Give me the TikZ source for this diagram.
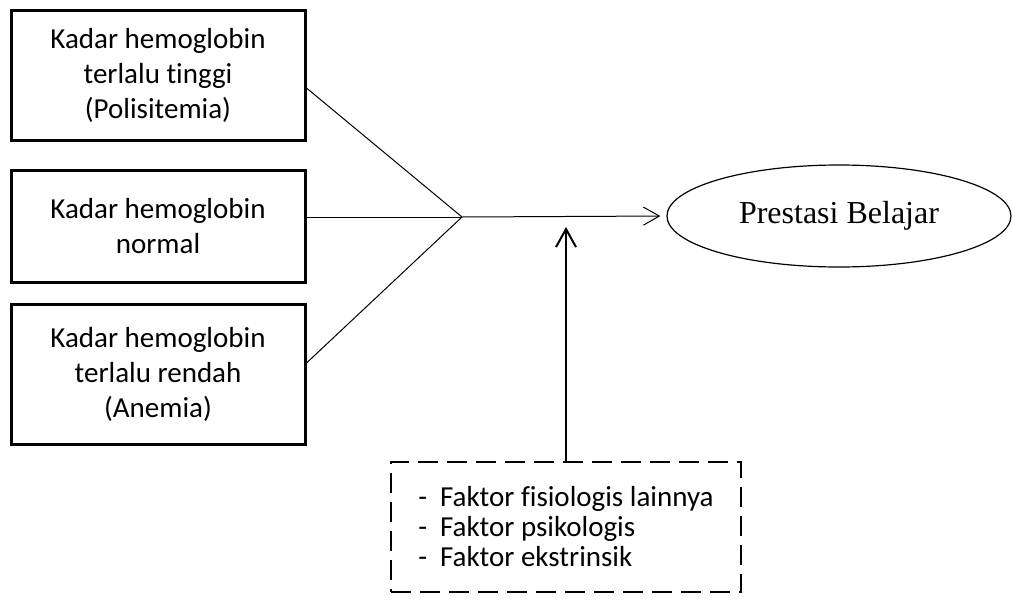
\documentclass[tikz,border=0pt]{standalone}
\usepackage{fontspec}
\setmainfont{Carlito}[Ligatures=NoCommon]
\newfontfamily\serifhuruf{Liberation Serif}
\usetikzlibrary{shapes.geometric,arrows.meta}
\tikzset{
  kotak/.style={draw, line width=1.5pt, minimum width=147pt, align=center,
    font=\fontsize{14.5}{17.5}\selectfont},
  garis/.style={line width=0.5pt},
  panah/.style={-{Straight Barb[length=8pt,width=9pt]}},
}

\begin{document}
\begin{tikzpicture}[x=0.5pt,y=-0.5pt]
\useasboundingbox (0,0) rectangle (1013,600);

\node[kotak, minimum height=65pt] (kadar1) at (158,75) {Kadar hemoglobin\\terlalu tinggi\\(Polisitemia)};
\node[kotak, minimum height=56pt] (kadar2) at (158,226) {Kadar hemoglobin\\normal};
\node[kotak, minimum height=70pt] (kadar3) at (158,374) {Kadar hemoglobin\\terlalu rendah\\(Anemia)};

\node[ellipse, draw, line width=0.6pt, minimum width=172pt, minimum height=51pt,
  font=\serifhuruf\fontsize{16}{19}\selectfont] (prestasi) at (839,216) {Prestasi Belajar};

\node[draw, line width=1pt, dash pattern=on 10pt off 4.5pt, minimum width=175pt, minimum height=65pt,
  align=left, font=\fontsize{14.5}{15}\selectfont] (faktor) at (566,527)
  {-\hspace{6.5pt}Faktor fisiologis lainnya\\-\hspace{6.5pt}Faktor psikologis\\-\hspace{6.5pt}Faktor ekstrinsik};

\coordinate (temu) at (462,217);
\coordinate (ujung) at (566,227);

\foreach \n/\dy in {kadar1/-6.5pt, kadar2/4.5pt, kadar3/5.5pt}
  \draw[garis] ([yshift=\dy]\n.east) -- (temu);
\draw[garis, panah, shorten >=3pt] (temu) -- (prestasi.west);
\draw[line width=1pt, -{Straight Barb[length=9pt,width=10pt]}] (faktor.north) -- (ujung);
\end{tikzpicture}
\end{document}
